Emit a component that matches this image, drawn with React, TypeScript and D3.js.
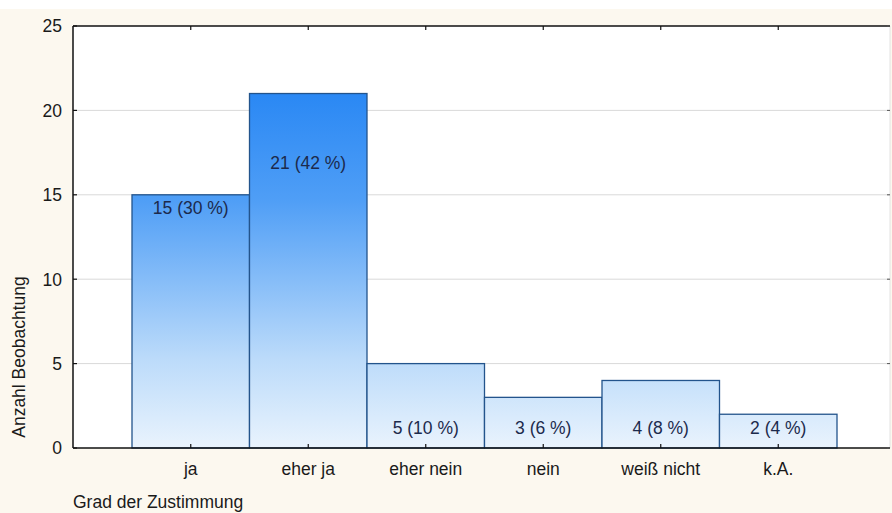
import React from "react";
import * as d3 from "d3";

// Survey answers: count of observations per answer category
const categories = ["ja", "eher ja", "eher nein", "nein", "weiß nicht", "k.A."];
const counts = [15, 21, 5, 3, 4, 2];
const percents = [30, 42, 10, 6, 8, 4];
const yTicks = [0, 5, 10, 15, 20, 25];

const W = 892;
const H = 513;
const FRAME = { left: 73, right: 890, top: 26, bottom: 448 };
const FONT = "'Liberation Sans', Arial, sans-serif";

export default function App() {
  const x = d3
    .scaleBand<string>()
    .domain(categories)
    .range([132, 837])
    .padding(0);
  const y = d3.scaleLinear().domain([0, 25]).range([FRAME.bottom, FRAME.top]);
  const bw = x.bandwidth();

  // Label placement: small bars carry their label near the baseline,
  // tall bars just below their top edge (capped for the tallest one).
  const labelBaseline = (v: number) =>
    v < 10 ? y(0) - 14.5 : Math.max(y(v) + 19, y(16.9) + 6.5);

  return (
    <div style={{ position: "absolute", left: 0, top: 0 }}>
      <svg width={W} height={H} style={{ display: "block" }} fontFamily={FONT}>
        <defs>
          <linearGradient
            id="barFill"
            gradientUnits="userSpaceOnUse"
            x1={0}
            x2={0}
            y1={y(21)}
            y2={y(0)}
          >
            <stop offset="0" stopColor="#2a88f4" />
            <stop offset="0.3" stopColor="#4f9ef6" />
            <stop offset="0.75" stopColor="#bcdbfa" />
            <stop offset="1" stopColor="#e9f3fd" />
          </linearGradient>
        </defs>

        <rect x={0} y={0} width={W} height={H} fill="#ffffff" />
        <rect x={0} y={9} width={W} height={H - 9} fill="#fcf8ef" />
        <rect
          x={FRAME.left}
          y={FRAME.top}
          width={FRAME.right - FRAME.left}
          height={FRAME.bottom - FRAME.top}
          fill="#ffffff"
        />

        {/* horizontal grid */}
        {yTicks
          .filter((t) => t > 0 && t < 25)
          .map((t) => (
            <line
              key={"g" + t}
              x1={FRAME.left}
              x2={FRAME.right}
              y1={y(t)}
              y2={y(t)}
              stroke="#d9d9d9"
              strokeWidth={1}
            />
          ))}

        {/* bars */}
        {categories.map((c, i) => (
          <rect
            key={"b" + c}
            x={x(c)!}
            y={y(counts[i])}
            width={bw}
            height={y(0) - y(counts[i])}
            fill="url(#barFill)"
            stroke="#23548c"
            strokeWidth={1.3}
          />
        ))}

        {/* value labels */}
        {categories.map((c, i) => (
          <text
            key={"l" + c}
            x={x(c)! + bw / 2}
            y={labelBaseline(counts[i])}
            textAnchor="middle"
            fontSize={17.5}
            fill="#1c2a4c"
          >
            {`${counts[i]} (${percents[i]} %)`}
          </text>
        ))}

        {/* frame */}
        <line x1={FRAME.right} x2={FRAME.right} y1={FRAME.top} y2={FRAME.bottom} stroke="#e2e2e2" strokeWidth={1} />
        <line x1={FRAME.left} x2={FRAME.right} y1={FRAME.top} y2={FRAME.top} stroke="#111" strokeWidth={1.5} />
        <line x1={FRAME.left} x2={FRAME.right} y1={FRAME.bottom} y2={FRAME.bottom} stroke="#111" strokeWidth={1.5} />
        <line x1={FRAME.left} x2={FRAME.left} y1={FRAME.top} y2={FRAME.bottom} stroke="#111" strokeWidth={1.5} />

        {/* y ticks and labels */}
        {yTicks.map((t) => (
          <g key={"yt" + t}>
            <line x1={FRAME.left} x2={FRAME.left + 4} y1={y(t)} y2={y(t)} stroke="#111" strokeWidth={1.2} />
            <line x1={FRAME.right} x2={FRAME.right - 3} y1={y(t)} y2={y(t)} stroke="#555" strokeWidth={1} />
            <text x={62} y={y(t) + 6.3} textAnchor="end" fontSize={17.5} fill="#1a1a1a">
              {t}
            </text>
          </g>
        ))}

        {/* x ticks and category labels */}
        {categories.map((c) => {
          const cx = x(c)! + bw / 2;
          return (
            <g key={"xt" + c}>
              <line x1={cx} x2={cx} y1={FRAME.bottom} y2={FRAME.bottom - 4} stroke="#111" strokeWidth={1.2} />
              <line x1={cx} x2={cx} y1={FRAME.top} y2={FRAME.top + 4} stroke="#111" strokeWidth={1.2} />
              <text x={cx} y={475} textAnchor="middle" fontSize={17.5} fill="#1a1a1a">
                {c}
              </text>
            </g>
          );
        })}

        {/* axis titles */}
        <text x={73} y={508} fontSize={17.5} fill="#1a1a1a">
          Grad der Zustimmung
        </text>
        <text
          transform={`translate(25,357) rotate(-90)`}
          textAnchor="middle"
          fontSize={17.5}
          fill="#1a1a1a"
        >
          Anzahl Beobachtung
        </text>
      </svg>
    </div>
  );
}
